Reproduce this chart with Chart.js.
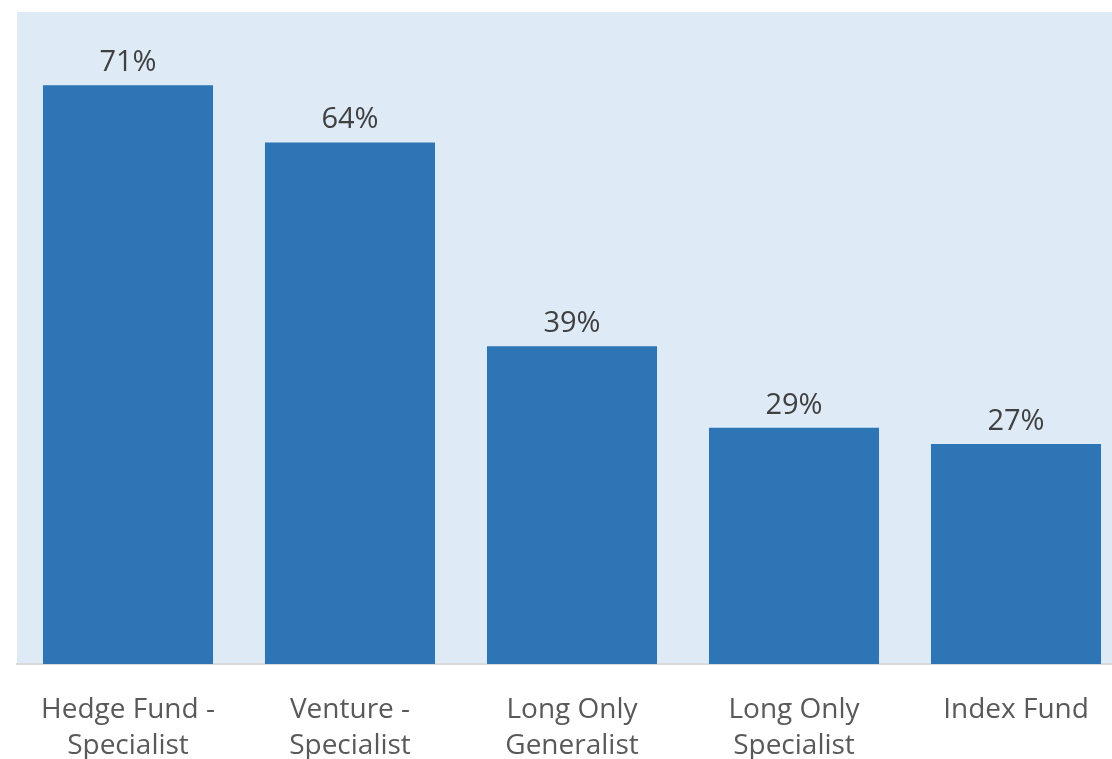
<!DOCTYPE html>
<html>
<head>
<meta charset="utf-8">
<script src="https://cdn.jsdelivr.net/npm/chart.js@4/dist/chart.umd.min.js"></script>
<style>
    html, body { margin: 0; padding: 0; background: #fff; overflow: hidden; }
    .wrap { width: 1130px; height: 759px; position: relative; }
</style>
</head>
<body>
<div class="wrap"><canvas id="barChart"></canvas></div>
<script>
const categories = [
    ['Hedge Fund -', 'Specialist'],
    ['Venture -', 'Specialist'],
    ['Long Only', 'Generalist'],
    ['Long Only', 'Specialist'],
    'Index Fund'
];
const percentages = [71, 64, 39, 29, 27];

const fontFamily = '"Open Sans", "Noto Sans", sans-serif';

// fill the plot area with the pale blue panel
const plotBackground = {
    id: 'plotBackground',
    beforeDraw: (chart) => {
        const { ctx, chartArea } = chart;
        ctx.save();
        ctx.fillStyle = '#deeaf6';
        ctx.fillRect(chartArea.left, chartArea.top, chartArea.right - chartArea.left, chartArea.bottom - chartArea.top);
        ctx.restore();
    }
};

// percent labels above each bar
const valueLabels = {
    id: 'valueLabels',
    afterDatasetsDraw: (chart) => {
        const { ctx } = chart;
        const meta = chart.getDatasetMeta(0);
        ctx.save();
        ctx.font = `29px ${fontFamily}`;
        ctx.fillStyle = '#404040';
        ctx.textAlign = 'center';
        ctx.textBaseline = 'alphabetic';
        meta.data.forEach((bar, i) => {
            ctx.fillText(percentages[i] + '%', bar.x, bar.y - 14);
        });
        ctx.restore();
    }
};

const ctx = document.getElementById('barChart').getContext('2d');
const barChart = new Chart(ctx, {
    type: 'bar',
    data: {
        labels: categories,
        datasets: [{
            data: percentages,
            backgroundColor: '#2e75b6',
            borderWidth: 0,
            categoryPercentage: 0.766,
            barPercentage: 1
        }]
    },
    options: {
        responsive: true,
        maintainAspectRatio: false,
        animation: false,
        layout: { padding: { left: 17, top: 12, right: 3, bottom: 0 } },
        plugins: {
            legend: { display: false },
            tooltip: { enabled: false }
        },
        scales: {
            x: {
                grid: { display: false, drawTicks: false },
                border: { display: true, color: '#d9d9d9', width: 2 },
                ticks: {
                    color: '#595959',
                    padding: 28,
                    maxRotation: 0,
                    autoSkip: false,
                    font: { family: fontFamily, size: 28, lineHeight: 1.28 }
                },
                // keep the category band a fixed height below the bars
                afterFit: (axis) => { axis.height = 95; }
            },
            y: {
                display: false,
                min: 0,
                max: 80
            }
        }
    },
    plugins: [plotBackground, valueLabels]
});
</script>
</body>
</html>
